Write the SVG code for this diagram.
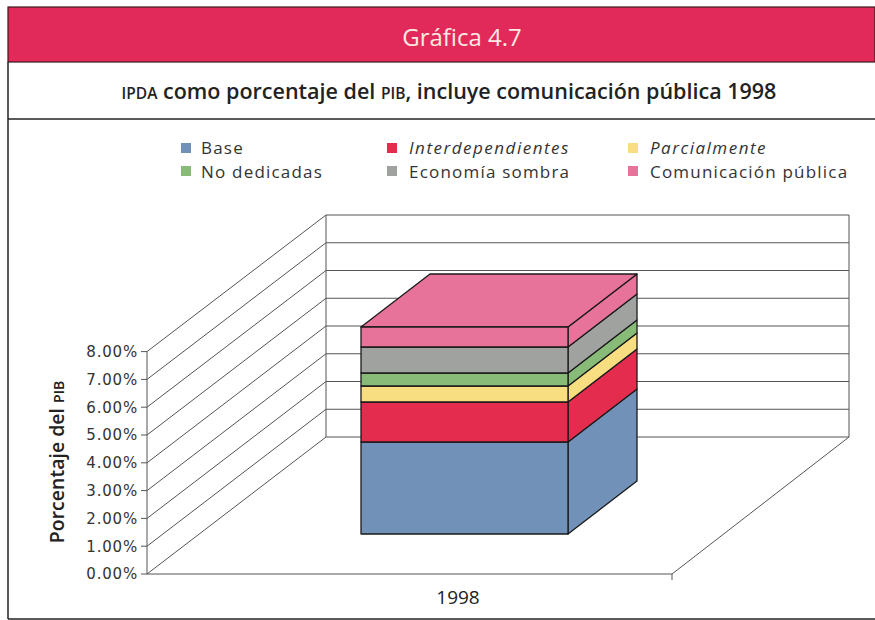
<svg xmlns="http://www.w3.org/2000/svg" width="875" height="620" viewBox="0 0 875 620">
<style>
  text { font-family: "Open Sans", "Noto Sans", "DejaVu Sans", sans-serif; fill: #222; }
  .frame { stroke: #222; stroke-width: 1.5; fill: none; }
  .grid { stroke: #555; stroke-width: 1; fill: none; }
  .tick { font-family: "DejaVu Sans", "Open Sans", sans-serif; font-size: 15px; letter-spacing: 0.8px; text-anchor: end; fill: #333; }
  .leg { font-size: 17px; letter-spacing: 1.2px; fill: #333; }
  .it { font-style: italic; letter-spacing: 1.5px; }
  .face { stroke: #1a1a1a; stroke-width: 1.3; stroke-linejoin: round; }
  .base { fill: #7291B8; }
  .inter { fill: #E42C4E; }
  .parc { fill: #F8DE80; }
  .nodd { fill: #88BB78; }
  .econ { fill: #A0A2A0; }
  .comu { fill: #E8739A; }
</style>
<rect x="0" y="0" width="875" height="620" fill="#ffffff"/>

<g id="header">
  <rect x="8" y="7" width="867" height="55" fill="#E22A5A" stroke="#3a1a1a" stroke-width="1.2"/>
  <text x="462" y="46" font-size="24" text-anchor="middle" style="fill:#FBE9E2">Gráfica 4.7</text>
</g>
<g id="subtitle">
  <text x="449" y="99" font-size="21.5" font-weight="600" text-anchor="middle"><tspan font-size="15.5">IPDA</tspan> como porcentaje del <tspan font-size="15.5">PIB</tspan>, incluye comunicación pública 1998</text>
</g>
<g id="frame">
  <line class="frame" x1="8" y1="62" x2="8" y2="619"/>
  <line class="frame" x1="8" y1="119" x2="875" y2="119" stroke-width="1.2"/>
  <line class="frame" x1="8" y1="619" x2="875" y2="619"/>
</g>

<g id="legend">
  <rect x="181" y="143" width="10" height="10" class="base"/>
  <text x="201" y="154" class="leg">Base</text>
  <rect x="181" y="166" width="10" height="10" class="nodd"/>
  <text x="201" y="177.5" class="leg">No dedicadas</text>
  <rect x="387" y="143" width="10" height="10" class="inter"/>
  <text x="409" y="154" class="leg it">Interdependientes</text>
  <rect x="387" y="166" width="10" height="10" class="econ"/>
  <text x="409" y="177.5" class="leg">Economía sombra</text>
  <rect x="628" y="143" width="10" height="10" class="parc"/>
  <text x="650" y="154" class="leg it">Parcialmente</text>
  <rect x="628" y="166" width="10" height="10" class="comu"/>
  <text x="650" y="177.5" class="leg">Comunicación pública</text>
</g>

<g id="axes">
  <!-- back wall -->
  <line class="grid" x1="326" y1="215" x2="849" y2="215"/>
  <line class="grid" x1="326" y1="242.75" x2="849" y2="242.75"/>
  <line class="grid" x1="326" y1="270.5" x2="849" y2="270.5"/>
  <line class="grid" x1="326" y1="298.25" x2="849" y2="298.25"/>
  <line class="grid" x1="326" y1="326" x2="849" y2="326"/>
  <line class="grid" x1="326" y1="353.75" x2="849" y2="353.75"/>
  <line class="grid" x1="326" y1="381.5" x2="849" y2="381.5"/>
  <line class="grid" x1="326" y1="409.25" x2="849" y2="409.25"/>
  <line class="grid" x1="326" y1="437" x2="849" y2="437"/>
  <line class="grid" x1="326" y1="215" x2="326" y2="437"/>
  <line class="grid" x1="849" y1="215" x2="849" y2="437"/>
  <!-- side wall diagonals -->
  <line class="grid" x1="147" y1="351.6" x2="326" y2="215"/>
  <line class="grid" x1="147" y1="379.4" x2="326" y2="242.75"/>
  <line class="grid" x1="147" y1="407.2" x2="326" y2="270.5"/>
  <line class="grid" x1="147" y1="435" x2="326" y2="298.25"/>
  <line class="grid" x1="147" y1="462.8" x2="326" y2="326"/>
  <line class="grid" x1="147" y1="490.6" x2="326" y2="353.75"/>
  <line class="grid" x1="147" y1="518.4" x2="326" y2="381.5"/>
  <line class="grid" x1="147" y1="546.2" x2="326" y2="409.25"/>
  <line class="grid" x1="147" y1="574" x2="326" y2="437"/>
  <!-- front axis -->
  <line class="grid" x1="147" y1="351.6" x2="147" y2="574"/>
  <!-- floor -->
  <line class="grid" x1="147" y1="574" x2="672" y2="574"/>
  <line class="grid" x1="672" y1="574" x2="849" y2="437"/>
  <line class="grid" x1="672" y1="574" x2="672" y2="580"/>
  <!-- ticks -->
  <g class="grid">
    <line x1="141" y1="351.6" x2="147" y2="351.6"/>
    <line x1="141" y1="379.4" x2="147" y2="379.4"/>
    <line x1="141" y1="407.2" x2="147" y2="407.2"/>
    <line x1="141" y1="435" x2="147" y2="435"/>
    <line x1="141" y1="462.8" x2="147" y2="462.8"/>
    <line x1="141" y1="490.6" x2="147" y2="490.6"/>
    <line x1="141" y1="518.4" x2="147" y2="518.4"/>
    <line x1="141" y1="546.2" x2="147" y2="546.2"/>
    <line x1="141" y1="574" x2="147" y2="574"/>
  </g>
  <text class="tick" x="138" y="357">8.00%</text>
  <text class="tick" x="138" y="384.8">7.00%</text>
  <text class="tick" x="138" y="412.6">6.00%</text>
  <text class="tick" x="138" y="440.4">5.00%</text>
  <text class="tick" x="138" y="468.2">4.00%</text>
  <text class="tick" x="138" y="496">3.00%</text>
  <text class="tick" x="138" y="523.8">2.00%</text>
  <text class="tick" x="138" y="551.6">1.00%</text>
  <text class="tick" x="138" y="579.4">0.00%</text>
  <text x="64" y="462" font-size="19.5" font-weight="600" text-anchor="middle" transform="rotate(-90 64 462)">Porcentaje del <tspan font-size="14">PIB</tspan></text>
  <text x="458" y="604" font-size="19" text-anchor="middle" fill="#333">1998</text>
</g>

<g id="bar-1998">
  <!-- right side faces -->
  <polygon class="face base" points="568,534 637,481 637,389 568,442"/>
  <polygon class="face inter" points="568,442 637,389 637,349 568,402"/>
  <polygon class="face parc" points="568,402 637,349 637,333 568,386"/>
  <polygon class="face nodd" points="568,386 637,333 637,320 568,373"/>
  <polygon class="face econ" points="568,373 637,320 637,294 568,347"/>
  <polygon class="face comu" points="568,347 637,294 637,274 568,327"/>
  <!-- top -->
  <polygon class="face comu" points="361,327 430,274 637,274 568,327"/>
  <!-- front faces -->
  <rect class="face base" x="361" y="442" width="207" height="92"/>
  <rect class="face inter" x="361" y="402" width="207" height="40"/>
  <rect class="face parc" x="361" y="386" width="207" height="16"/>
  <rect class="face nodd" x="361" y="373" width="207" height="13"/>
  <rect class="face econ" x="361" y="347" width="207" height="26"/>
  <rect class="face comu" x="361" y="327" width="207" height="20"/>
</g>
</svg>
